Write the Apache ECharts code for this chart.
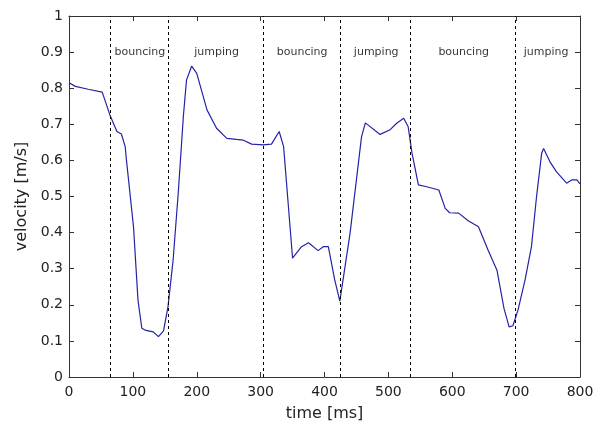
<!DOCTYPE html>
<html>
<head>
<meta charset="utf-8">
<script src="https://cdn.jsdelivr.net/npm/echarts@6/dist/echarts.min.js"></script>
<style>html,body{margin:0;padding:0;background:#fff}#c{width:602px;height:428px}</style>
</head>
<body>
<div id="c"></div>
<script>
// time [ms]
const timeMs = [0, 10, 30, 52, 64, 75, 82, 88, 90, 101, 108, 114, 119, 132, 140, 148, 155, 163, 171, 179, 184, 192, 200, 216, 231, 247, 262, 273, 286, 304, 317, 329, 336, 350, 364, 375, 390, 398, 406, 416, 424, 440, 458, 464, 487, 502, 513, 524, 531, 537, 547, 560, 579, 589, 596, 610, 625, 641, 656, 670, 681, 689, 695, 703, 714, 724, 732, 740, 743, 753, 763, 779, 787, 795, 800];
// velocity [m/s]
const velocity = [0.815, 0.805, 0.797, 0.789, 0.726, 0.68, 0.673, 0.638, 0.60, 0.416, 0.213, 0.135, 0.13, 0.125, 0.112, 0.128, 0.195, 0.324, 0.509, 0.721, 0.823, 0.861, 0.841, 0.74, 0.689, 0.661, 0.658, 0.656, 0.645, 0.643, 0.645, 0.68, 0.638, 0.329, 0.361, 0.372, 0.35, 0.361, 0.361, 0.269, 0.21, 0.398, 0.666, 0.704, 0.672, 0.684, 0.703, 0.717, 0.693, 0.62, 0.532, 0.527, 0.518, 0.467, 0.455, 0.454, 0.433, 0.416, 0.352, 0.296, 0.19, 0.139, 0.142, 0.186, 0.269, 0.361, 0.5, 0.62, 0.633, 0.596, 0.569, 0.537, 0.546, 0.546, 0.535];
// phase boundaries [ms]
const boundaries = [64, 155, 304, 425, 535, 698];
// phase labels
const phaseNames = ['bouncing', 'jumping', 'bouncing', 'jumping', 'bouncing', 'jumping'];
const phaseCenters = [111, 231, 365, 481, 618, 747];
const phaseLabelY = 0.9;
const xTicks = [0, 100, 200, 300, 400, 500, 600, 700, 800];
const yTicks = [0, 0.1, 0.2, 0.3, 0.4, 0.5, 0.6, 0.7, 0.8, 0.9, 1];

const axisColor = '#333';
const font = 'DejaVu Sans';
const chart = echarts.init(document.getElementById('c'), null, {renderer: 'canvas'});
const baseX = {
  type: 'value', min: 0, max: 800, interval: 100,
  axisLine: {show: true, onZero: false, lineStyle: {color: axisColor, width: 1}},
  axisTick: {show: true, inside: true, length: 5, lineStyle: {color: axisColor}},
  splitLine: {show: false}
};
const baseY = {
  type: 'value', min: 0, max: 1, interval: 0.1,
  axisLine: {show: true, onZero: false, lineStyle: {color: axisColor, width: 1}},
  axisTick: {show: true, inside: true, length: 5, lineStyle: {color: axisColor}},
  splitLine: {show: false}
};
chart.setOption({
  animation: false,
  backgroundColor: '#fff',
  grid: {left: 69, top: 16, right: 22, bottom: 51},
  xAxis: [
    Object.assign({}, baseX, {
      position: 'bottom',
      name: 'time [ms]', nameLocation: 'middle', nameGap: 29,
      nameTextStyle: {fontFamily: font, fontSize: 16, color: '#222'},
      axisLabel: {fontFamily: font, fontSize: 14, color: '#222', margin: 8}
    }),
    Object.assign({}, baseX, {position: 'top', axisLabel: {show: false}})
  ],
  yAxis: [
    Object.assign({}, baseY, {
      position: 'left',
      name: 'velocity [m/s]', nameLocation: 'middle', nameGap: 38,
      nameTextStyle: {fontFamily: font, fontSize: 16, color: '#222'},
      axisLabel: {fontFamily: font, fontSize: 14, color: '#222', margin: 6,
        formatter: v => String(Math.round(v * 10) / 10)}
    }),
    Object.assign({}, baseY, {position: 'right', axisLabel: {show: false}})
  ],
  series: [
    {
      type: 'line',
      data: timeMs.map((t, i) => [t, velocity[i]]),
      showSymbol: false,
      lineStyle: {color: '#2323a8', width: 1.2},
      markLine: {
        silent: true, symbol: 'none',
        label: {show: false},
        lineStyle: {color: '#000', type: [3, 3], width: 1},
        data: boundaries.map(b => ({xAxis: b}))
      }
    },
    {
      type: 'scatter',
      symbolSize: 0,
      data: phaseCenters.map((c, i) => ({value: [c, phaseLabelY], name: phaseNames[i]})),
      label: {show: true, position: 'inside', formatter: p => p.name,
        fontFamily: font, fontSize: 11, color: '#000'}
    }
  ]
});
</script>
</body>
</html>
